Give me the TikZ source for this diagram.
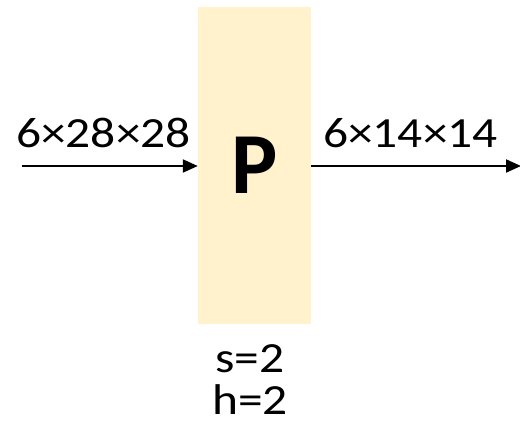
\documentclass[tikz,border=0pt]{standalone}
\usepackage{fontspec}
\setmainfont{Carlito}
\newfontfamily\widefont[FakeStretch=1.15]{Carlito}
\usetikzlibrary{arrows.meta,positioning}
\definecolor{poolfill}{HTML}{FFF2CC}
\tikzset{
  dimlabel/.style={inner sep=0pt, anchor=base west, font=\widefont\fontsize{43}{48}\selectfont},
  paramlabel/.style={inner sep=0pt, anchor=base, font=\widefont\fontsize{43}{48}\selectfont},
  flow/.style={line width=2pt, -{Triangle[length=15pt,width=13pt]}}
}
\begin{document}
\begin{tikzpicture}[x=1pt, y=-1pt]
		\useasboundingbox (0, 0) rectangle (520, 421);
		% Pooling layer
		\node[fill=poolfill, minimum width=113pt, minimum height=317pt, inner sep=0pt,
		      font=\bfseries\fontsize{87}{90}\selectfont] (pool) at (254.5, 165.5) {P};
		
		% Input and output
		\coordinate (in) at (22, 166);
		\coordinate (out) at (521, 166);
		\draw[flow] (in) -- (pool.west |- in);
		\draw[flow] (pool.east |- out) -- (out);
		\node[dimlabel] (inlabel) at (16, 147) {6×28×28};
		\node[dimlabel] (outlabel) at (323, 147) {6×14×14};
		
		% Parameters
		\node[paramlabel] (stride) at (250, 372) {s=2};
		\node[paramlabel] (size) at (250, 414) {h=2};
	\end{tikzpicture}
\end{document}
